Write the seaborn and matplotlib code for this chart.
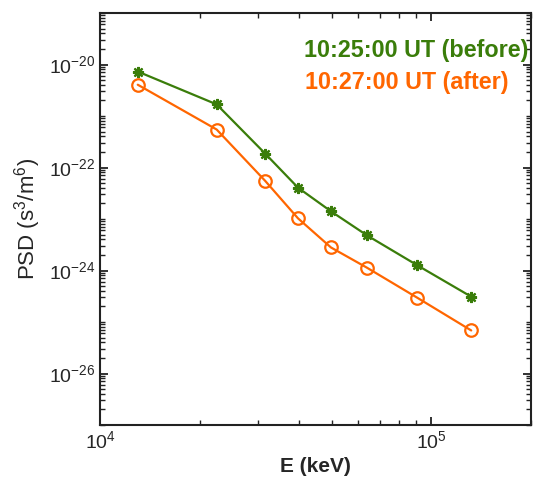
import numpy as np
import pandas as pd
import matplotlib
matplotlib.use("Agg")
import matplotlib.pyplot as plt
import matplotlib.ticker as mticker
import seaborn as sns

energy_kev = [13000, 22500, 31500, 39600, 49800, 64000, 90800, 132000]
psd_before = [7.3e-21, 1.68e-21, 1.87e-22, 4.06e-23, 1.41e-23, 4.8e-24, 1.26e-24, 3.1e-25]
psd_after = [4.05e-21, 5.46e-22, 5.53e-23, 1.03e-23, 2.8e-24, 1.13e-24, 2.95e-25, 6.85e-26]
label_before = "10:25:00 UT (before)"
label_after = "10:27:00 UT (after)"

green = "#3a7d0a"
orange = "#ff6600"

sns.set_style("ticks")
plt.rcParams["font.family"] = ["Liberation Sans", "DejaVu Sans"]
plt.rcParams["mathtext.fontset"] = "custom"
plt.rcParams["mathtext.rm"] = "Liberation Sans"
plt.rcParams["mathtext.it"] = "Liberation Sans"

df = pd.DataFrame({
    "E": energy_kev * 2,
    "PSD": psd_before + psd_after,
    "series": [label_before] * len(energy_kev) + [label_after] * len(energy_kev),
})

fig = plt.figure(figsize=(5.34, 4.92), dpi=100)
ax = fig.add_axes([100 / 534, 1 - 425 / 492, 431 / 534, 412 / 492])

sns.lineplot(data=df[df.series == label_before], x="E", y="PSD", ax=ax, color=green,
             marker=(8, 2, 0), markersize=8, markeredgewidth=1.6, markeredgecolor=green,
             linewidth=1.6, legend=False)
sns.lineplot(data=df[df.series == label_after], x="E", y="PSD", ax=ax, color=orange,
             marker="o", markersize=9, markerfacecolor="none", markeredgewidth=1.6,
             markeredgecolor=orange, linewidth=1.6, legend=False)

ax.set_xscale("log")
ax.set_yscale("log")
ax.set_xlim(1e4, 2e5)
ax.set_ylim(1e-27, 1e-19)

ax.xaxis.set_major_locator(mticker.FixedLocator([1e4, 1e5]))
ax.xaxis.set_minor_locator(mticker.LogLocator(base=10, subs=np.arange(2, 10), numticks=20))
ax.xaxis.set_minor_formatter(mticker.NullFormatter())
ax.yaxis.set_major_locator(mticker.FixedLocator([1e-26, 1e-24, 1e-22, 1e-20]))
ax.yaxis.set_minor_locator(mticker.LogLocator(base=10, subs=np.arange(1, 10), numticks=40))
ax.yaxis.set_minor_formatter(mticker.NullFormatter())
ax.xaxis.set_major_formatter(mticker.LogFormatterMathtext())
ax.yaxis.set_major_formatter(mticker.LogFormatterMathtext())

ax.tick_params(which="both", direction="in", top=True, right=True, colors="#222222",
               labelcolor="#262626", labelsize=14)
ax.tick_params(which="major", length=6, width=1.3)
ax.tick_params(which="minor", length=3.5, width=1.0)
for s in ax.spines.values():
    s.set_linewidth(1.5)
    s.set_color("#222222")

ax.set_xlabel("E (keV)", fontsize=15, fontweight="bold", color="#262626", labelpad=4)
ax.set_ylabel(r"PSD (s$^3$/m$^6$)", fontsize=16, color="#262626", labelpad=4)

ax.text(0.995, 0.91, label_before, transform=ax.transAxes, ha="right", va="center",
        color=green, fontsize=16.8, fontweight="bold")
ax.text(0.947, 0.832, label_after, transform=ax.transAxes, ha="right", va="center",
        color=orange, fontsize=16.8, fontweight="bold")

fig.savefig("out.png", dpi=100)
